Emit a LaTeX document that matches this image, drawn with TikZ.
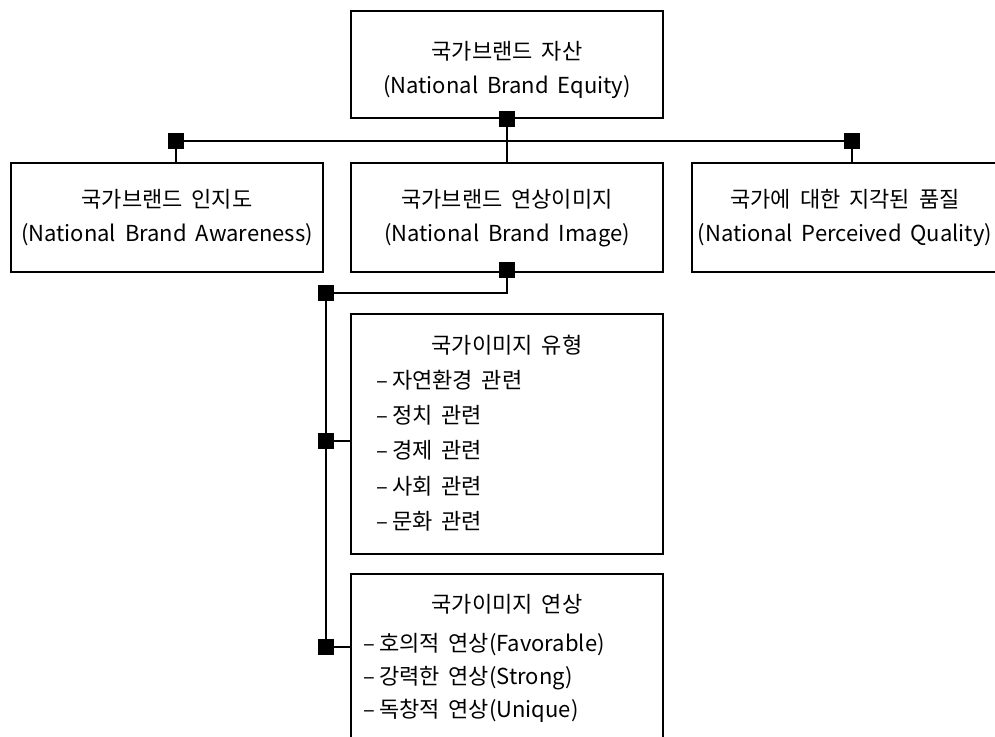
\documentclass[tikz,border=0pt]{standalone}
\usepackage{fontspec}
\setmainfont{Noto Sans CJK KR}[WordSpace=1.8]
\begin{document}
\begin{tikzpicture}[x=0.75pt,y=-0.75pt,
  box/.style={draw=black,line width=1.5pt,rectangle,inner sep=0pt,
    minimum width=312*0.75pt},
  txt/.style={inner sep=0pt,align=center,
    font=\fontsize{16.5pt}{25.5pt}\selectfont},
  item/.style={inner sep=0pt,anchor=base west,
    font=\fontsize{16.5pt}{25.5pt}\selectfont},
  knob/.style={fill=black,rectangle,inner sep=0pt,minimum size=15*0.75pt},
  wire/.style={line width=1.5pt}]
\useasboundingbox (0,0) rectangle (995,736);
\clip (0,0) rectangle (995,736);

% boxes
\node[box,minimum height=107*0.75pt] (equity) at (507,64.5) {};
\node[box,minimum height=109*0.75pt] (aware) at (167,217.5) {};
\node[box,minimum height=109*0.75pt] (image) at (507,217.5) {};
\node[box,minimum height=109*0.75pt] (quality) at (848,217.5) {};
\node[box,minimum height=240*0.75pt] (types) at (507,434) {};
\node[box,minimum height=200*0.75pt] (assoc) at (507,674) {};

% box captions
\node[txt] (equityT) at (507,70) {국가브랜드 자산\\(National Brand Equity)};
\node[txt] (awareT) at (167,218) {국가브랜드 인지도\\(National Brand Awareness)};
\node[txt] (imageT) at (507,218) {국가브랜드 연상이미지\\(National Brand Image)};
\node[txt] (qualityT) at (845,218) {국가에 대한 지각된 품질\\(National Perceived Quality)};

% image types list
\node[txt] (typesT) at (507,345) {국가이미지 유형};
\node[item] (t1) at (376,388) {–\hspace{3pt}자연환경 관련};
\node[item] (t2) at (376,423) {–\hspace{3pt}정치 관련};
\node[item] (t3) at (376,458) {–\hspace{3pt}경제 관련};
\node[item] (t4) at (376,494) {–\hspace{3pt}사회 관련};
\node[item] (t5) at (376,529) {–\hspace{3pt}문화 관련};

% image associations list
\node[txt] (assocT) at (507,604) {국가이미지 연상};
\node[item] (a1) at (363,651) {–\hspace{3pt}호의적 연상(Favorable)};
\node[item] (a2) at (363,684) {–\hspace{3pt}강력한 연상(Strong)};
\node[item] (a3) at (363,717) {–\hspace{3pt}독창적 연상(Unique)};

% junction squares
\node[knob] (kTop) at (507,119) {};
\node[knob] (kLeft) at (176,141) {};
\node[knob] (kRight) at (852,141) {};
\node[knob] (kImg) at (507,270) {};
\node[knob] (kBus) at (326,293) {};
\node[knob] (kTypes) at (326,441) {};
\node[knob] (kAssoc) at (326,647) {};
\coordinate (bend) at (507,293);

% connectors
\draw[wire] (kLeft.center) -- (kRight.center);
\draw[wire] (kTop.center) -- (kTop.center |- image.north);
\draw[wire] (kLeft.center) -- (kLeft.center |- aware.north);
\draw[wire] (kRight.center) -- (kRight.center |- quality.north);
\draw[wire] (kImg.center) -- (bend) -- (kBus.center);
\draw[wire] (kBus.center) -- (kAssoc.center);
\draw[wire] (kTypes.center) -- (kTypes.center -| types.west);
\draw[wire] (kAssoc.center) -- (kAssoc.center -| assoc.west);

% squares on top of the wires
\foreach \k in {kTop,kLeft,kRight,kImg,kBus,kTypes,kAssoc}
  \fill (\k.south west) rectangle (\k.north east);
\end{tikzpicture}
\end{document}
